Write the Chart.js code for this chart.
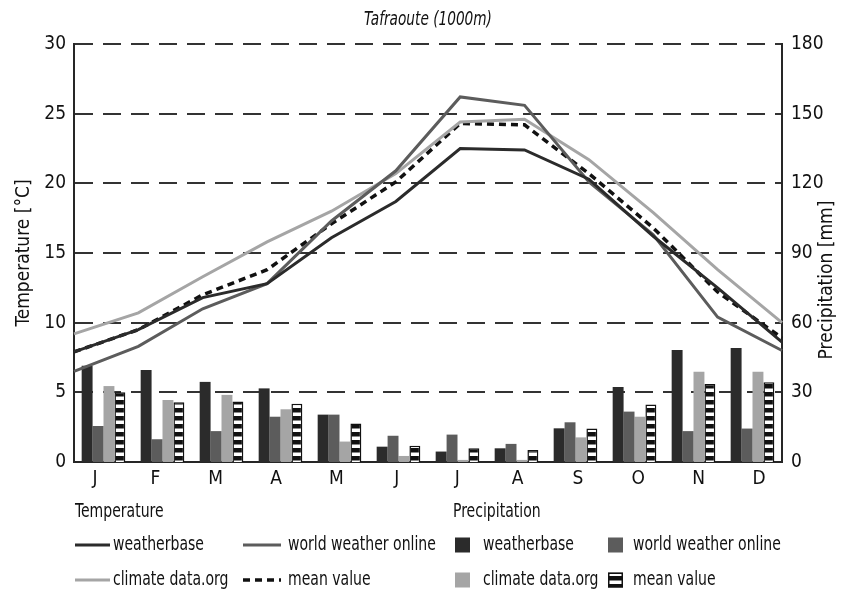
<!DOCTYPE html>
<html>
<head>
<meta charset="utf-8">
<script src="https://cdn.jsdelivr.net/npm/chart.js@4/dist/chart.umd.min.js"></script>
<style>
  html, body { margin: 0; padding: 0; background: #fff; }
  #wrap { position: relative; width: 845px; height: 592px; }
  #wrap canvas { position: absolute; left: 0; top: 0; }
</style>
</head>
<body>
<div id="wrap">
  <canvas id="precip" width="845" height="592"></canvas>
  <canvas id="temp" width="845" height="592"></canvas>
</div>
<script>
// Tafraoute (1000 m): monthly temperature and precipitation from three sources plus their mean
const months = ['J', 'F', 'M', 'A', 'M', 'J', 'J', 'A', 'S', 'O', 'N', 'D'];
const tempTicks = [0, 5, 10, 15, 20, 25, 30];
const precTicks = [0, 30, 60, 90, 120, 150, 180];

// Temperature [°C]
const tempWeatherbase = [7.9, 9.5, 11.8, 12.8, 16.1, 18.7, 22.5, 22.4, 20.3, 16.2, 12.5, 8.6];
const tempWorldWeather = [6.5, 8.3, 11.0, 12.8, 17.3, 20.9, 26.2, 25.6, 20.1, 16.3, 10.4, 8.0];
const tempClimateData = [9.2, 10.7, 13.3, 15.8, 18.0, 20.7, 24.4, 24.6, 21.7, 17.9, 13.8, 10.0];
const tempMean = [7.9, 9.5, 12.0, 13.8, 17.1, 20.1, 24.3, 24.2, 20.7, 16.8, 12.2, 8.9];

// Precipitation [mm]
const precWeatherbase = [41.5, 39.6, 34.5, 31.7, 20.4, 6.6, 4.5, 5.9, 14.5, 32.3, 48.2, 49.1];
const precWorldWeather = [15.5, 9.8, 13.3, 19.5, 20.4, 11.3, 11.8, 7.8, 17.1, 21.7, 13.3, 14.4];
const precClimateData = [32.7, 26.7, 28.9, 22.7, 8.8, 2.6, 0.9, 0.9, 10.6, 19.5, 38.9, 38.9];
const precMean = [30.0, 25.7, 26.0, 25.1, 16.6, 7.0, 5.9, 5.2, 14.4, 24.8, 33.6, 34.3];

const FONT = "'DejaVu Sans Condensed', 'Liberation Sans', sans-serif";
const INK = '#262626';
const C_DARK = '#2b2b2b';
const C_MID = '#5c5c5c';
const C_LIGHT = '#a5a5a5';

// shared plot box: both charts use the same area so the two y scales line up
const AREA = { left: 74, right: 63, top: 44, bottom: 130 };

const precCtx = document.getElementById('precip').getContext('2d');
const tempCtx = document.getElementById('temp').getContext('2d');

// horizontal black/white stripes for the mean precipitation bars
function stripePattern() {
  const p = document.createElement('canvas');
  p.width = 4; p.height = 8;
  const g = p.getContext('2d');
  g.fillStyle = '#fff'; g.fillRect(0, 0, 4, 8);
  g.fillStyle = '#111'; g.fillRect(0, 0, 4, 4.5);
  return precCtx.createPattern(p, 'repeat');
}
const stripes = stripePattern();

const lineDs = (label, data, color, dash) => ({
  label, data, borderColor: color, borderWidth: dash ? 3.5 : 3, borderDash: dash || [],
  pointRadius: 0, tension: 0, fill: false
});
const barDs = (label, data, fill, border) => ({
  label, data, xAxisID: 'x', yAxisID: 'y1',
  backgroundColor: fill, borderColor: border || fill, borderWidth: border ? 1.5 : 0
});

const tempSets = [
  lineDs('weatherbase', tempWeatherbase, C_DARK),
  lineDs('world weather online', tempWorldWeather, C_MID),
  lineDs('climate data.org', tempClimateData, C_LIGHT),
  lineDs('mean value', tempMean, '#111', [7, 5])
];
const precSets = [
  barDs('weatherbase', precWeatherbase, C_DARK),
  barDs('world weather online', precWorldWeather, C_MID),
  barDs('climate data.org', precClimateData, C_LIGHT),
  barDs('mean value', precMean, stripes, '#111')
];

// draws text squeezed horizontally, like a condensed face
function narrowText(c, text, x, y, sx) {
  c.save();
  c.translate(x, y);
  c.scale(sx, 1);
  c.fillText(text, 0, 0);
  c.restore();
}

// legend and titles drawn straight onto the canvas
const decorations = {
  id: 'decorations',
  afterDraw(chart) {
    const c = chart.ctx;
    c.save();
    c.fillStyle = '#111';
    c.textBaseline = 'middle';

    // title
    c.font = 'italic 19px ' + FONT;
    c.textAlign = 'center';
    narrowText(c, 'Tafraoute (1000m)', 428, 20, 0.8);

    // axis titles, both reading bottom to top
    c.font = '19px ' + FONT;
    c.save(); c.translate(24, 253); c.rotate(-Math.PI / 2); c.fillText('Temperature [°C]', 0, 0); c.restore();
    c.save(); c.translate(827, 280); c.rotate(-Math.PI / 2); c.fillText('Precipitation [mm]', 0, 0); c.restore();

    // legend
    const SX = 0.78;
    c.textAlign = 'left';
    c.font = '20px ' + FONT;
    narrowText(c, 'Temperature', 75, 512, SX);
    narrowText(c, 'Precipitation', 453, 512, SX);

    const rowsY = [545, 580];
    const lineCols = [{ x0: 75, x1: 110, tx: 113 }, { x0: 243, x1: 281, tx: 288 }];
    const boxCols = [{ x: 455, tx: 483 }, { x: 608, tx: 633 }];
    tempSets.forEach((d, i) => {
      const col = lineCols[i % 2], y = rowsY[Math.floor(i / 2)];
      c.save();
      c.strokeStyle = d.borderColor; c.lineWidth = d.borderWidth;
      c.setLineDash(d.borderDash.length ? [7, 5] : []);
      c.beginPath(); c.moveTo(col.x0, y); c.lineTo(col.x1, y); c.stroke();
      c.restore();
      narrowText(c, d.label, col.tx, y, SX);
    });
    precSets.forEach((d, i) => {
      const col = boxCols[i % 2], y = rowsY[Math.floor(i / 2)];
      c.save();
      c.fillStyle = d.backgroundColor;
      c.fillRect(col.x, y - 7.5, 15, 15);
      if (d.borderWidth) { c.strokeStyle = d.borderColor; c.lineWidth = 1.5; c.strokeRect(col.x + 0.75, y - 6.75, 13.5, 13.5); }
      c.restore();
      narrowText(c, d.label, col.tx, y, SX);
    });
    c.restore();
  }
};

// base chart: axes, dashed grid, precipitation bars, titles and legend
new Chart(precCtx, {
  type: 'bar',
  data: { labels: months, datasets: precSets },
  options: {
    responsive: false,
    maintainAspectRatio: false,
    animation: false,
    datasets: { bar: { categoryPercentage: 0.74, barPercentage: 1.0 } },
    layout: { padding: { top: AREA.top, left: 0, right: 0, bottom: AREA.bottom - 30 } },
    plugins: { legend: { display: false }, title: { display: false }, tooltip: { enabled: false } },
    scales: {
      x: { type: 'category', offset: true, display: false, grid: { display: false } },
      xt: {
        type: 'linear', position: 'bottom', offset: false,
        min: -0.348, max: 11.381,
        afterBuildTicks: s => { s.ticks = months.map((_, i) => ({ value: i })); },
        afterFit: s => { s.height = 30; },
        grid: { display: false, drawTicks: false },
        border: { display: true, color: INK, width: 2 },
        ticks: {
          autoSkip: false, maxRotation: 0, padding: 6, color: '#111',
          font: { family: FONT, size: 19 },
          callback: v => months[v]
        }
      },
      y: {
        position: 'left', min: 0, max: 30,
        afterBuildTicks: s => { s.ticks = tempTicks.map(v => ({ value: v })); },
        afterFit: s => { s.width = AREA.left; },
        grid: { color: '#333', lineWidth: 2, drawTicks: false },
        border: { display: true, color: INK, width: 2, dash: [18, 10] },
        ticks: { padding: 8, color: '#111', font: { family: FONT, size: 19 } }
      },
      y1: {
        position: 'right', min: 0, max: 180,
        afterBuildTicks: s => { s.ticks = precTicks.map(v => ({ value: v })); },
        afterFit: s => { s.width = AREA.right; },
        grid: { display: false, drawTicks: false },
        border: { display: true, color: INK, width: 2 },
        ticks: { padding: 9, color: '#111', font: { family: FONT, size: 19 } }
      }
    }
  },
  plugins: [decorations]
});

// overlay chart: temperature lines running from the left axis to the right axis
new Chart(tempCtx, {
  type: 'line',
  data: { labels: months, datasets: tempSets },
  options: {
    responsive: false,
    maintainAspectRatio: false,
    animation: false,
    layout: { padding: AREA },
    plugins: { legend: { display: false }, title: { display: false }, tooltip: { enabled: false } },
    scales: {
      x: { type: 'category', offset: false, display: false },
      y: { min: 0, max: 30, display: false }
    }
  }
});
</script>
</body>
</html>
